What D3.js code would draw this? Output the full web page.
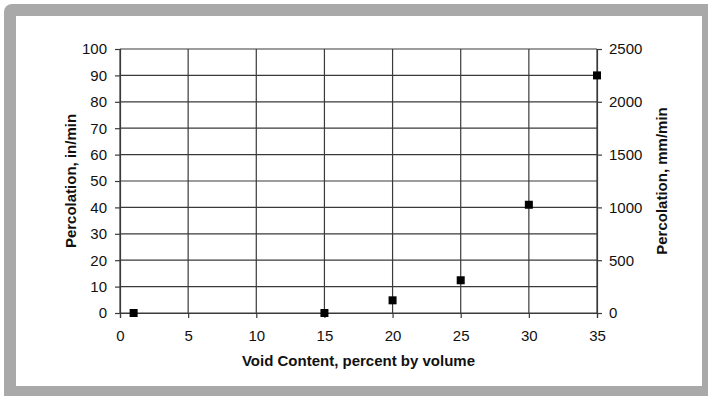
<!DOCTYPE html>
<html>
<head>
<meta charset="utf-8" />
<script src="https://d3js.org/d3.v7.min.js"></script>
<style>
  body { margin: 0; background: #fff; }
  svg text { font-family: "Liberation Sans", Arial, sans-serif; fill: #111; }
</style>
</head>
<body>
<div id="chart"></div>
<script>
// data
var voidContent = [1, 15, 20, 25, 30, 35];
var percInMin = [0, 0, 4.8, 12.4, 41, 90];
var xTicks = [0, 5, 10, 15, 20, 25, 30, 35];
var yTicks = [0, 10, 20, 30, 40, 50, 60, 70, 80, 90, 100];
var y2Ticks = [0, 500, 1000, 1500, 2000, 2500];

var W = 708, H = 396;
var plot = {left: 120, right: 597, top: 49, bottom: 313};

var svg = d3.select("#chart").append("svg")
    .attr("width", W)
    .attr("height", H);

// grey frame
svg.append("rect")
    .attr("x", 4).attr("y", 4)
    .attr("width", W + 10).attr("height", H + 10)
    .attr("rx", 8)
    .style("fill", "#a9a9a9");
svg.append("rect")
    .attr("x", 16).attr("y", 16)
    .attr("width", 686).attr("height", 370)
    .style("fill", "#fff");

var x = d3.scaleLinear().domain([0, 35]).range([plot.left, plot.right]);
var y = d3.scaleLinear().domain([0, 100]).range([plot.bottom, plot.top]);
var y2 = d3.scaleLinear().domain([0, 2500]).range([plot.bottom, plot.top]);

// grid
svg.append("g").selectAll("line.h")
    .data(yTicks)
    .enter().append("line")
    .attr("x1", plot.left).attr("x2", plot.right)
    .attr("y1", function(d) { return y(d); })
    .attr("y2", function(d) { return y(d); })
    .style("stroke", "#3a3a3a").style("stroke-width", 1.2);
svg.append("g").selectAll("line.v")
    .data(xTicks)
    .enter().append("line")
    .attr("y1", plot.top).attr("y2", plot.bottom)
    .attr("x1", function(d) { return x(d); })
    .attr("x2", function(d) { return x(d); })
    .style("stroke", "#3a3a3a").style("stroke-width", 1.2);

var xAxis = d3.axisBottom(x).tickValues(xTicks).tickSize(5).tickPadding(12);
var yAxis = d3.axisLeft(y).tickValues(yTicks).tickSize(5).tickPadding(8);
var y2Axis = d3.axisRight(y2).tickValues(y2Ticks).tickSize(5).tickPadding(7)
    .tickFormat(d3.format("d"));

function styleAxis(g) {
  g.select(".domain").style("stroke", "#3a3a3a").style("stroke-width", 1.2);
  g.selectAll(".tick line").style("stroke", "#3a3a3a").style("stroke-width", 1.2);
  g.selectAll("text").style("font-size", "15px").style("fill", "#111")
    .style("font-family", "'Liberation Sans', Arial, sans-serif");
}

svg.append("g")
    .attr("transform", "translate(0," + plot.bottom + ")")
    .call(xAxis).call(styleAxis);
svg.append("g")
    .attr("transform", "translate(" + plot.left + ",0)")
    .call(yAxis).call(styleAxis);
svg.append("g")
    .attr("transform", "translate(" + plot.right + ",0)")
    .call(y2Axis).call(styleAxis);

// points
var pts = voidContent.map(function(d, i) { return {x: d, y: percInMin[i]}; });
svg.append("g").selectAll("rect.pt")
    .data(pts)
    .enter().append("rect")
    .attr("class", "pt")
    .attr("x", function(d) { return x(d.x) - 4; })
    .attr("y", function(d) { return y(d.y) - 4; })
    .attr("width", 8).attr("height", 8)
    .style("fill", "#000");

// axis titles
svg.append("text")
    .attr("x", (plot.left + plot.right) / 2)
    .attr("y", 366)
    .style("text-anchor", "middle")
    .style("font-weight", "bold")
    .style("font-size", "15px")
    .text("Void Content, percent by volume");

svg.append("text")
    .attr("transform", "translate(76," + ((plot.top + plot.bottom) / 2) + ") rotate(-90)")
    .style("text-anchor", "middle")
    .style("font-weight", "bold")
    .style("font-size", "15px")
    .text("Percolation, in/min");

svg.append("text")
    .attr("transform", "translate(667," + ((plot.top + plot.bottom) / 2) + ") rotate(-90)")
    .style("text-anchor", "middle")
    .style("font-weight", "bold")
    .style("font-size", "15px")
    .text("Percolation, mm/min");
</script>
</body>
</html>
